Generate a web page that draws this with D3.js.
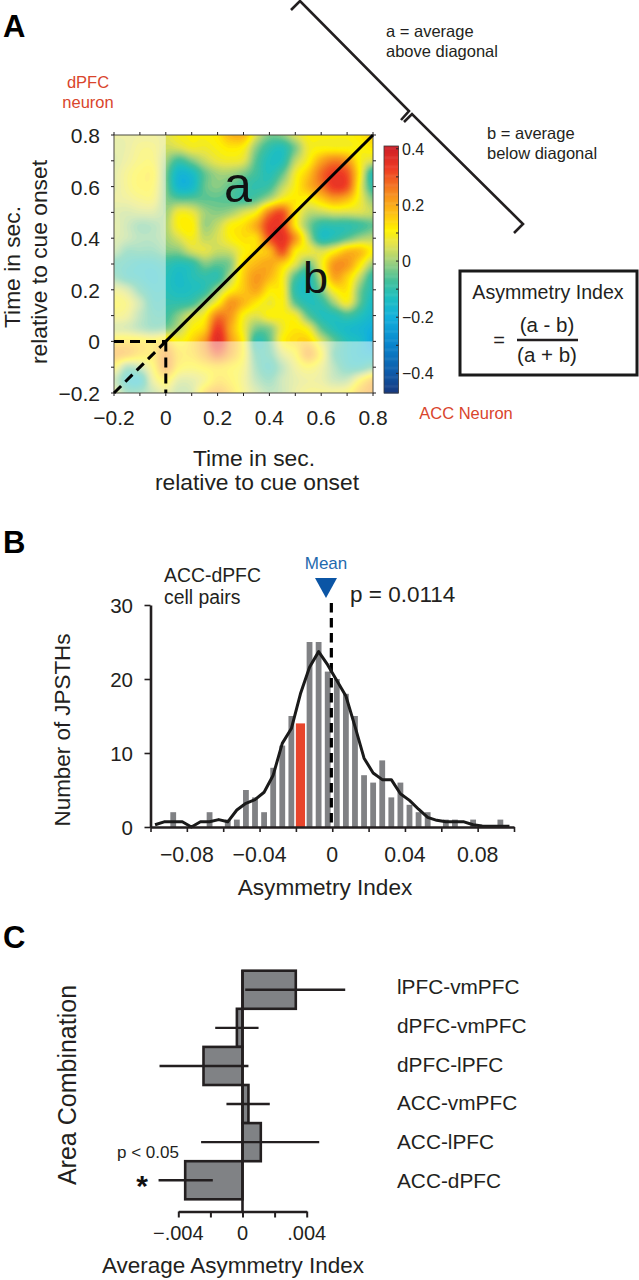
<!DOCTYPE html>
<html><head><meta charset="utf-8">
<script src="https://cdn.jsdelivr.net/npm/d3@7"></script>
<style>html,body{margin:0;background:#fff}svg{display:block}text{font-family:"Liberation Sans",Arial,sans-serif;fill:#231f20}</style>
</head><body><svg id="c" width="639" height="1280"></svg>
<script>
// Panel A: JPSTH matrix, rows from t=0.8 (top) to t=-0.2, columns t=-0.2..0.8 step 0.05
const heatRows = [
[.05,.05,.06,.06,.06,.09,.1,.1,.12,.18,.18,.05,-.03,-.02,.05,.1,.1,.1,.1,.12,.15],
[.04,.05,.08,.08,.04,.05,.08,.08,.1,.12,.1,-.02,-.1,-.12,-.03,.08,.1,.1,.1,.1,.12],
[.03,.06,.09,.09,0,-.08,-.03,.03,.07,.08,.06,-.06,-.13,-.12,.02,.1,.2,.25,.22,.1,.05],
[.04,.08,.11,.11,-.03,-.17,-.15,-.05,0,0,-.03,-.08,-.12,-.05,.08,.16,.27,.33,.3,.1,-.12],
[.04,.08,.11,.1,-.03,-.17,-.16,-.05,-.02,-.05,-.08,-.1,-.08,.02,.1,.18,.25,.33,.3,.08,-.1],
[.05,.06,.08,.08,-.02,-.05,-.05,-.05,-.05,-.06,-.08,-.05,.02,.1,.12,.1,.15,.2,.17,.08,-.02],
[.03,.02,.03,.03,0,.08,.07,0,-.02,0,.05,.1,.25,.3,.12,.03,.03,.05,.05,.05,.03],
[.04,0,-.04,-.03,.01,.1,.11,0,.03,.1,.13,.2,.33,.32,.12,-.02,-.1,-.1,-.1,-.08,-.05],
[.03,0,-.03,-.03,0,.05,.09,.03,.05,.1,.13,.14,.3,.35,.22,.03,-.12,-.1,-.05,0,.02],
[0,-.06,-.06,-.06,-.03,-.02,.04,.06,.03,.04,.1,.14,.18,.3,.12,.08,.05,.1,.17,.17,.1],
[-.08,-.1,-.12,-.12,-.1,-.12,-.1,-.03,-.05,-.02,.13,.18,.2,.15,.06,-.03,.08,.22,.22,.12,0],
[-.05,-.1,-.12,-.14,-.12,-.15,-.12,-.1,-.1,.02,.15,.22,.18,.1,-.06,-.12,.03,.2,.15,.03,-.1],
[.06,.02,-.07,-.12,-.12,-.14,-.13,-.1,0,.1,.16,.2,.12,.1,-.1,-.13,-.03,.1,.12,-.03,-.12],
[.1,.08,0,-.1,-.1,-.1,-.08,0,.1,.22,.18,.12,.08,.1,-.05,-.12,-.1,0,.08,-.05,-.15],
[.08,.06,-.02,-.08,-.08,-.02,.05,.1,.25,.22,.1,.06,.1,.1,.08,-.05,-.12,-.12,-.08,-.12,-.17],
[.03,.02,-.02,-.05,-.03,.02,.1,.15,.33,.2,.08,-.03,-.02,.08,.12,.08,-.05,-.12,-.15,-.17,-.2],
[.14,.14,.13,.12,.15,.1,.14,.22,.36,.22,.1,-.1,-.05,.1,.14,.15,.05,-.05,-.12,-.15,-.22],
[.2,.18,.14,.14,.22,.14,.14,.2,.28,.2,.1,-.07,-.07,.04,.1,.2,.1,-.06,-.12,-.15,-.17],
[.1,-.03,0,.1,.22,.12,.1,.12,.14,.12,.08,-.05,-.1,-.02,.06,.1,.06,-.03,-.1,-.1,-.05],
[0,-.12,-.13,.05,.12,.04,.04,.08,.14,.12,.07,-.02,-.06,0,.04,.06,.05,0,0,.1,.18],
[.05,-.05,-.05,0,.05,0,.02,.15,.2,.15,.08,.02,-.02,0,.05,.08,.08,.08,.1,.18,.22]
];
const heatTicks = [-0.2,0,0.2,0.4,0.6,0.8];
const barTicks = [0.4,0.2,0,-0.2,-0.4];
const colorStops = [-.47,-.4,-.3,-.2,-.13,-.07,0,.06,.11,.17,.24,.33,.4,.44];
const colorVals = ["#17397f","#0f5aa8","#0a84cc","#12b0dc","#1fbfbf","#45c09a","#a3d27c","#e4e34e","#fff200","#fdc015","#f68b1f","#ee3a24","#d02027","#a51d24"];
// Panel B
const histCounts = [0,0,2,0,0,0,2,0,1,1,5,4,2,8,11,15,14,25,25,21,20,18,15,7,6,9,4,6,3,2,2,0,1,1,0,1,0,0,1,0];
const smoothCounts = [.3,.7,.7,.7,0,.7,.7,1,.7,2.3,3.2,3.7,4.7,7,11.3,13.3,18,21.6,23.7,21.9,19.8,17.7,13.6,9.3,7.3,6.4,6.4,4.5,3.6,2.4,1.3,.9,.7,.7,.7,.3,.15,.1,.1,.1];
const histTicks = [-0.08,-0.04,0,0.04,0.08];
const highlightBin = 16;
const meanValue = -0.0005;
// Panel C
const areas = ["lPFC-vmPFC","dPFC-vmPFC","dPFC-lPFC","ACC-vmPFC","ACC-lPFC","ACC-dPFC"];
const avgIndex = [.00332,-.00035,-.00243,.00037,.00114,-.00357];
const errLow = [.00017,-.0017,-.00517,-.001,-.00258,-.00523];
const errHigh = [.0064,.001,.00037,.0017,.00478,-.00185];

const svg = d3.select("#c");
const ink = "#231f20";
function txt(x,y,s,size,o={}){
  const t = svg.append("text").attr("x",x).attr("y",y).attr("font-size",size).text(s);
  if(o.anchor) t.attr("text-anchor",o.anchor);
  if(o.fill) t.style("fill",o.fill);
  if(o.weight) t.attr("font-weight",o.weight);
  return t;
}
// ---------- Panel A
const hx = d3.scaleLinear().domain([-0.2,0.8]).range([114,373]);
const hy = d3.scaleLinear().domain([-0.2,0.8]).range([393,135]);
const color = d3.scaleLinear().domain(colorStops).range(colorVals).clamp(true);
// Catmull-Rom refinement of the read grid so the contours are smooth
const F = 6, n = heatRows.length, N = (n-1)*F+1;
const cr=(a,b,c,d,t)=>.5*(2*b+(c-a)*t+(2*a-5*b+4*c-d)*t*t+(3*b-a-3*c+d)*t*t*t);
const cl=(i)=>Math.max(0,Math.min(n-1,i));
const fine = new Float64Array(N*N);
for(let j=0;j<N;j++){const fj=j/F,j0=Math.min(n-2,Math.floor(fj)),tj=fj-j0;
  for(let i=0;i<N;i++){const fi=i/F,i0=Math.min(n-2,Math.floor(fi)),ti=fi-i0;
    const col=[-1,0,1,2].map(dj=>{const r=heatRows[cl(j0+dj)];return cr(r[cl(i0-1)],r[cl(i0)],r[cl(i0+1)],r[cl(i0+2)],ti);});
    fine[j*N+i]=cr(col[0],col[1],col[2],col[3],tj);
  }}
const levels = d3.range(-.48,.46,.012);
const contours = d3.contours().size([N,N]).smooth(true).thresholds(levels)(fine);
const gx = d3.scaleLinear().domain([0,N-1]).range([hx.range()[0],hx.range()[1]]);
const gy = d3.scaleLinear().domain([0,N-1]).range([hy.range()[1],hy.range()[0]]);
const proj = d3.geoTransform({point(x,y){this.stream.point(gx(x-.5),gy(y-.5));}});
const defs = svg.append("defs");
defs.append("clipPath").attr("id","hc").append("rect").attr("x",114).attr("y",135).attr("width",259).attr("height",258);
const hg = svg.append("g").attr("clip-path","url(#hc)");
hg.append("rect").attr("x",114).attr("y",135).attr("width",259).attr("height",258).attr("fill",color(-.48));
hg.selectAll("path").data(contours).join("path")
  .attr("d",d3.geoPath(proj)).attr("fill",d=>color(d.value+.006)).attr("stroke",d=>color(d.value+.006)).attr("stroke-width",.3);
// pre-cue wash
hg.append("rect").attr("x",hx(-0.2)).attr("y",hy(0.8)).attr("width",hx(0)-hx(-0.2)).attr("height",hy(-0.2)-hy(0.8)).attr("fill","#fff").attr("opacity",.5);
hg.append("rect").attr("x",hx(0)).attr("y",hy(0)).attr("width",hx(0.8)-hx(0)).attr("height",hy(-0.2)-hy(0)).attr("fill","#fff").attr("opacity",.5);
// frame & ticks
svg.append("rect").attr("x",114).attr("y",135).attr("width",259).attr("height",258).attr("fill","none").attr("stroke","#4a4a40").attr("stroke-width",1);
const minor = d3.range(-0.2,0.81,0.1);
const tg = svg.append("g").attr("stroke",ink).attr("stroke-width",1);
minor.forEach(v=>{
  tg.append("line").attr("x1",hx(v)).attr("x2",hx(v)).attr("y1",393).attr("y2",396);
  tg.append("line").attr("x1",hx(v)).attr("x2",hx(v)).attr("y1",135).attr("y2",132);
  tg.append("line").attr("y1",hy(v)).attr("y2",hy(v)).attr("x1",114).attr("x2",111);
  tg.append("line").attr("y1",hy(v)).attr("y2",hy(v)).attr("x1",373).attr("x2",376);
});
const fmt = v=>v===0?"0":d3.format(".1f")(v).replace("-","−");
heatTicks.forEach(v=>{
  txt(100,hy(v)+8,fmt(v),21,{anchor:"end"});
  txt(hx(v),425,fmt(v),21,{anchor:"middle"});
});
// diagonal and cue lines
svg.append("line").attr("x1",hx(0)).attr("y1",hy(0)).attr("x2",hx(0.8)).attr("y2",hy(0.8)).attr("stroke","#000").attr("stroke-width",3);
const dash = (x1,y1,x2,y2)=>svg.append("line").attr("x1",x1).attr("y1",y1).attr("x2",x2).attr("y2",y2).attr("stroke","#000").attr("stroke-width",3).attr("stroke-dasharray","10 6");
dash(hx(-0.2),hy(-0.2),hx(0),hy(0));
dash(hx(-0.2),hy(0),hx(0),hy(0));
dash(hx(0),hy(0),hx(0),hy(-0.2));
txt(224,202,"a",50).style("fill","#111");
txt(303,293,"b",45).style("fill","#111");
// colour bar
const cb = d3.scaleLinear().domain([-.47,.41]).range([393,146]);
const cbg = svg.append("g");
cbg.selectAll("rect").data(d3.range(-.47,.41,.004)).join("rect")
  .attr("x",384).attr("width",14.5).attr("y",d=>cb(d+.004)).attr("height",d=>cb(d)-cb(d+.004)+.5).attr("fill",d=>color(d));
cbg.append("rect").attr("x",384).attr("y",146).attr("width",14.5).attr("height",247).attr("fill","none").attr("stroke","#3a3a3a").attr("stroke-width",.8);
d3.range(-.4,.41,.1).forEach(v=>{
  cbg.append("line").attr("x1",396).attr("x2",398.5).attr("y1",cb(v)).attr("y2",cb(v)).attr("stroke",ink).attr("stroke-width",1);
});
barTicks.forEach(v=>txt(402,cb(v)+6,v===0?"0":d3.format(".1f")(v).replace("-","−"),16));
// axis titles
txt(20,267,"Time in sec.",22.8,{anchor:"middle"}).attr("transform","rotate(-90 20 267)");
txt(47,262,"relative to cue onset",22.8,{anchor:"middle"}).attr("transform","rotate(-90 47 262)");
txt(254,466,"Time in sec.",22.8,{anchor:"middle"});
txt(257,490,"relative to cue onset",22.8,{anchor:"middle"});
const red = "#d9452c";
txt(88,88,"dPFC",16.5,{anchor:"middle",fill:red});
txt(88,108,"neuron",16.5,{anchor:"middle",fill:red});
txt(466,419,"ACC Neuron",16.5,{anchor:"middle",fill:red});
txt(3,37,"A",31,{weight:"bold"}).style("fill","#000");
// bracket schematic
const bk = d3.line();
svg.append("path").attr("d",bk([[291,10],[300,1],[409,111],[401,120]])).attr("fill","none").attr("stroke",ink).attr("stroke-width",2.6);
svg.append("path").attr("d",bk([[404,122],[412,114],[523,224],[514,233]])).attr("fill","none").attr("stroke",ink).attr("stroke-width",2.6);
txt(386,37,"a = average",16.5);
txt(386,57,"above diagonal",16.5);
txt(487,139,"b = average",16.5);
txt(487,159,"below diagonal",16.5);
svg.append("rect").attr("x",460).attr("y",271).attr("width",177).attr("height",104).attr("fill","#fff").attr("stroke","#1a1a1a").attr("stroke-width",3);
txt(548,299,"Asymmetry Index",19.6,{anchor:"middle"});
txt(499,347,"=",20,{anchor:"middle"});
txt(547,332,"(a - b)",20.5,{anchor:"middle"});
txt(547,362,"(a + b)",20.5,{anchor:"middle"});
svg.append("line").attr("x1",517).attr("x2",578).attr("y1",340).attr("y2",340).attr("stroke",ink).attr("stroke-width",2.4);

// ---------- Panel B
const bx = d3.scaleLinear().domain([-0.1,0.1]).range([150.5,514]);
const by = d3.scaleLinear().domain([0,30]).range([827,605]);
const binW = 0.005, centers = histCounts.map((_,i)=>-0.0975+i*binW);
svg.append("g").selectAll("rect").data(histCounts).join("rect")
  .attr("x",(d,i)=>bx(centers[i])-(i===highlightBin?4.6:2.9)).attr("width",(d,i)=>i===highlightBin?9.2:5.8)
  .attr("y",d=>by(d)).attr("height",d=>by(0)-by(d))
  .attr("fill",(d,i)=>i===highlightBin?"#e8452c":"#808184");
svg.append("line").attr("x1",bx(meanValue)).attr("x2",bx(meanValue)).attr("y1",603).attr("y2",827).attr("stroke","#000").attr("stroke-width",3.2).attr("stroke-dasharray","9.5 5.5");
svg.append("path").attr("fill","none").attr("stroke","#1a1a1a").attr("stroke-width",3).attr("stroke-linejoin","round")
  .attr("d",d3.line().x((d,i)=>bx(centers[i])).y(d=>by(d))(smoothCounts));
const xAxisB = d3.axisBottom(bx).tickValues(d3.range(-0.1,0.1001,0.02)).tickFormat("").tickSize(5).tickSizeOuter(0);
const gb = svg.append("g").attr("transform","translate(0,827)").call(xAxisB);
gb.select(".domain").attr("stroke",ink).attr("stroke-width",2.6);
gb.selectAll("line").attr("stroke",ink).attr("stroke-width",1.6);
const yAxisB = d3.axisLeft(by).tickValues([0,10,20,30]).tickFormat("").tickSize(6).tickSizeOuter(0);
const gby = svg.append("g").attr("transform","translate(150.5,0)").call(yAxisB);
gby.select(".domain").attr("stroke",ink).attr("stroke-width",2.6);
gby.selectAll("line").attr("stroke",ink).attr("stroke-width",1.6);
[0,10,20,30].forEach(v=>txt(133,by(v)+7.5,String(v),20.5,{anchor:"end"}));
histTicks.forEach(v=>txt(bx(v),861.5,v===0?"0":d3.format(".2f")(v).replace("-","−"),21.3,{anchor:"middle"}));
txt(325,895,"Asymmetry Index",22.6,{anchor:"middle"});
txt(70,730,"Number of JPSTHs",22.4,{anchor:"middle"}).attr("transform","rotate(-90 70 730)");
txt(164,582,"ACC-dPFC",19.4);
txt(164,604,"cell pairs",19.4);
txt(326,569,"Mean",17,{anchor:"middle",fill:"#1f6aae"});
svg.append("path").attr("d",d3.line()([[315,578],[337,578],[326,598]])).attr("fill","#0b55a5");
txt(350,602,"p = 0.0114",22.5);
txt(3,553,"B",31,{weight:"bold"}).style("fill","#000");

// ---------- Panel C
const cx = d3.scaleLinear().domain([-.004,.004]).range([178.3,306.7]);
const cy = d3.scaleBand().domain(areas).range([970.7,1199.3]);
const labelY = d3.scalePoint().domain(areas).range([994,1188]);
const cg = svg.append("g");
cg.selectAll("rect").data(areas).join("rect")
  .attr("x",(d,i)=>Math.min(cx(avgIndex[i]),cx(0))).attr("width",(d,i)=>Math.abs(cx(avgIndex[i])-cx(0)))
  .attr("y",d=>cy(d)).attr("height",cy.bandwidth())
  .attr("fill","#808285").attr("stroke",ink).attr("stroke-width",2.6);
cg.selectAll("line.e").data(areas).join("line").attr("class","e")
  .attr("x1",(d,i)=>cx(errLow[i])).attr("x2",(d,i)=>cx(errHigh[i]))
  .attr("y1",d=>cy(d)+cy.bandwidth()/2).attr("y2",d=>cy(d)+cy.bandwidth()/2)
  .attr("stroke",ink).attr("stroke-width",2.4);
const xAxisC = d3.axisBottom(cx).tickValues([-.004,-.002,0,.002,.004]).tickFormat("").tickSize(6).tickSizeOuter(0);
const gc = svg.append("g").attr("transform","translate(0,1211.5)").call(xAxisC);
gc.select(".domain").attr("stroke",ink).attr("stroke-width",2.4);
gc.selectAll("line").attr("stroke",ink).attr("stroke-width",2);
svg.append("line").attr("x1",cx(0)).attr("x2",cx(0)).attr("y1",970).attr("y2",1212).attr("stroke",ink).attr("stroke-width",2.6);
[[-.004,"−.004"],[0,"0"],[.004,".004"]].forEach(([v,s])=>txt(cx(v),1240,s,20,{anchor:"middle"}));
areas.forEach(a=>txt(397,labelY(a),a,20.8));
txt(233,1273,"Average Asymmetry Index",22.5,{anchor:"middle"});
txt(76,1085,"Area Combination",25,{anchor:"middle"}).attr("transform","rotate(-90 76 1085)");
txt(117,1158,"p < 0.05",17);
txt(142,1196,"*",30,{anchor:"middle",weight:"bold"}).style("fill","#111");
txt(3,948,"C",31,{weight:"bold"}).style("fill","#000");
</script></body></html>
